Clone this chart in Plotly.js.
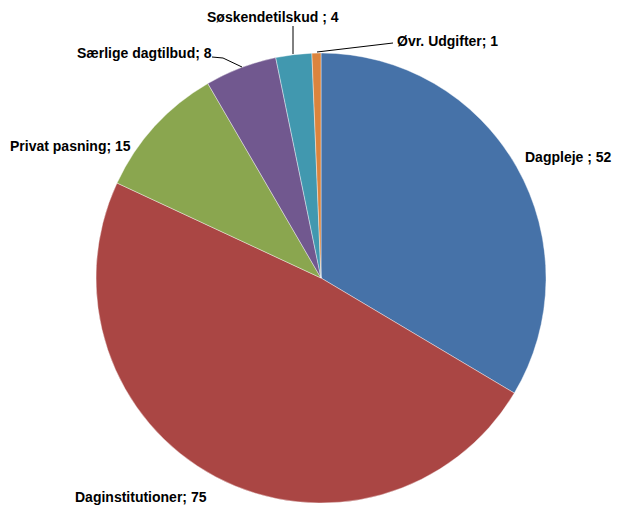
<!DOCTYPE html>
<html><head><meta charset="utf-8">
<script src="https://cdn.plot.ly/plotly-3.0.1.min.js"></script>
<style>html,body{margin:0;padding:0;background:#fff}#c{width:619px;height:506px}</style>
</head><body><div id="c"></div>
<script>
const categories = ["Dagpleje ", "Daginstitutioner", "Privat pasning", "Særlige dagtilbud", "Søskendetilskud ", "Øvr. Udgifter"];
const values = [52, 75, 15, 8, 4, 1];
const colors = ["#4672A8", "#AA4644", "#8AA64F", "#71588F", "#4198AF", "#DB843D"];

const W = 619, H = 506;
const px = x => x / W, py = y => 1 - y / H;
// label placement (pixels): [x, y, xanchor]
const labelPos = [[614,157,'right'],[73,497,'left'],[8,146,'left'],[75,53,'left'],[273,17,'center'],[395,41,'left']];

const annotations = categories.map((c,i)=>({
  xref:'paper', yref:'paper', x: px(labelPos[i][0]), y: py(labelPos[i][1]),
  xanchor: labelPos[i][2], yanchor:'middle', showarrow:false,
  text: '<b>' + c + '; ' + values[i] + '</b>',
  font:{family:'Liberation Sans, Arial, sans-serif', size:14, color:'#000'}
}));
const line = (pts)=>({type:'path', xref:'paper', yref:'paper',
  path: 'M' + pts.map(p=>px(p[0])+','+py(p[1])).join(' L'), line:{color:'#000', width:1}});
const shapes = [
  line([[212,57],[223,58],[242,67]]),
  line([[293,26],[293,54]]),
  line([[393,43],[317,52]])
];

Plotly.newPlot('c', [{
  type:'pie', labels: categories, values: values, sort:false, direction:'clockwise', rotation:0,
  marker:{colors: colors, line:{color:'#ffffff', width:0.4}},
  textinfo:'none', hoverinfo:'none',
  domain:{x:[px(96), px(546)], y:[py(503), py(53)]}
}], {
  width:W, height:H, margin:{l:0,r:0,t:0,b:0}, showlegend:false,
  paper_bgcolor:'#fff', annotations: annotations, shapes: shapes
}, {displayModeBar:false, staticPlot:true});
</script></body></html>
